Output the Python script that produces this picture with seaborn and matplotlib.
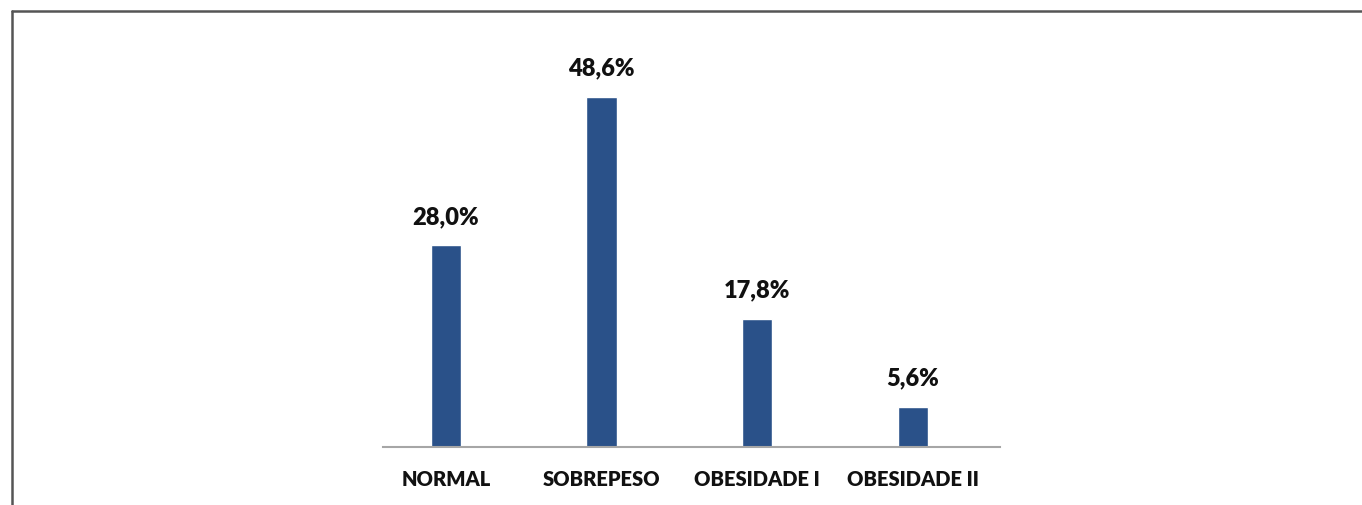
import matplotlib
matplotlib.use("Agg")
import matplotlib.pyplot as plt
from matplotlib.lines import Line2D
import seaborn as sns
import pandas as pd

categories = ["NORMAL", "SOBREPESO", "OBESIDADE I", "OBESIDADE II"]
values = [28.0, 48.6, 17.8, 5.6]
labels = ["28,0%", "48,6%", "17,8%", "5,6%"]

sns.set_theme(style="white")
plt.rcParams['font.family'] = ['Lato', 'DejaVu Sans']

W, H = 1362, 506
fig = plt.figure(figsize=(W / 100, H / 100), dpi=100)
fig.patch.set_facecolor("white")

left, right = 383 / W, 1000 / W
bottom = (H - 448) / H
top = (H - 60) / H
ax = fig.add_axes([left, bottom, right - left, top - bottom])

df = pd.DataFrame({"cat": categories, "val": values})
sns.barplot(data=df, x="cat", y="val", color="#2A5189", saturation=1,
            width=0.195, ax=ax)

ax.set_xlim(-0.405, 3.56)
ax.set_ylim(0, 53.8)
for s in ["top", "right", "left"]:
    ax.spines[s].set_visible(False)
ax.spines["bottom"].set_color("#A6A6A6")
ax.spines["bottom"].set_linewidth(1.5)
ax.set_yticks([])
ax.set_xlabel("")
ax.set_ylabel("")
ax.tick_params(axis="x", length=0, pad=16)
for t in ax.get_xticklabels():
    t.set_fontsize(14.5)
    t.set_fontweight("heavy")
    t.set_color("#111111")

for i, (v, lab) in enumerate(zip(values, labels)):
    ax.annotate(lab, (i, v), xytext=(0, 13), textcoords="offset points",
                ha="center", va="bottom", fontsize=17, fontweight="heavy",
                color="#111111")

# outer frame (left and top lines)
fig.add_artist(Line2D([12 / W, 12 / W], [0, 1 - 12 / H], transform=fig.transFigure,
                      color="#555555", linewidth=1.8))
fig.add_artist(Line2D([12 / W, 1], [1 - 12 / H, 1 - 12 / H], transform=fig.transFigure,
                      color="#555555", linewidth=1.8))

fig.savefig("out.png", dpi=100, facecolor="white")
